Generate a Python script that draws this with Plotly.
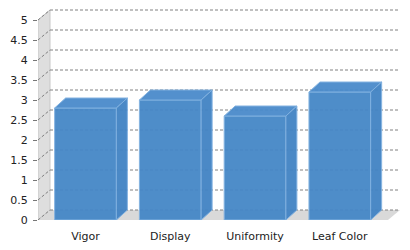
import plotly.graph_objects as go

categories = ["Vigor", "Display", "Uniformity", "Leaf Color"]
values = [2.8, 3.0, 2.6, 3.2]
y_ticks = [0, 0.5, 1, 1.5, 2, 2.5, 3, 3.5, 4, 4.5, 5]
y_ticktext = ["0", "0.5", "1", "1.5", "2", "2.5", "3", "3.5", "4", "4.5", "5"]

idx = list(range(len(categories)))

# geometry (axis units)
X_RANGE = [-0.5603, 3.710]
Y_RANGE = [0, 5.3]
FRONT_RIGHT = 3.568
BAR_W = 0.728
DX_BAR = 0.1298
DX_WALL = 0.1416
DY = 0.25

BAR_COLOR = "#4587c7"
TOP_COLOR = "#4a8bcb"
SIDE_COLOR = "#4283c4"
EDGE_COLOR = "#7fb0e0"
OPAC = 0.95

fig = go.Figure()
fig.add_trace(go.Bar(
    x=idx, y=values, width=BAR_W,
    marker=dict(color=BAR_COLOR, line=dict(color=EDGE_COLOR, width=1)),
    opacity=OPAC, hoverinfo="skip", showlegend=False,
))

shapes = []
x0 = X_RANGE[0]
# left wall
shapes.append(dict(type="path", layer="below", xref="x", yref="y",
                   path=f"M {x0},0 L {x0},{y_ticks[-1]} L {x0+DX_WALL},{y_ticks[-1]+DY} L {x0+DX_WALL},{DY} Z",
                   fillcolor="#dedede", line=dict(color="#c8c8c8", width=1)))
# floor
shapes.append(dict(type="path", layer="below", xref="x", yref="y",
                   path=f"M {x0},0 L {FRONT_RIGHT},0 L {FRONT_RIGHT+DX_WALL},{DY} L {x0+DX_WALL},{DY} Z",
                   fillcolor="#d9d9d9", line=dict(width=0)))
# gridlines on back plane and wall diagonals
for v in y_ticks:
    shapes.append(dict(type="line", layer="below", xref="x", yref="y",
                       x0=x0+DX_WALL, x1=X_RANGE[1], y0=v+DY, y1=v+DY,
                       line=dict(color="#808080", width=1, dash="3px,2px")))
    shapes.append(dict(type="line", layer="below", xref="x", yref="y",
                       x0=x0, x1=x0+DX_WALL, y0=v, y1=v+DY,
                       line=dict(color="#808080", width=1, dash="3px,2px")))
# bar top and side faces
for i, v in zip(idx, values):
    l = i - BAR_W/2
    r = i + BAR_W/2
    shapes.append(dict(type="path", layer="above", xref="x", yref="y", opacity=OPAC,
                       path=f"M {l},{v} L {l+DX_BAR},{v+DY} L {r+DX_BAR},{v+DY} L {r},{v} Z",
                       fillcolor=TOP_COLOR, line=dict(color=EDGE_COLOR, width=1)))
    shapes.append(dict(type="path", layer="above", xref="x", yref="y", opacity=OPAC,
                       path=f"M {r},0 L {r+DX_BAR},{DY} L {r+DX_BAR},{v+DY} L {r},{v} Z",
                       fillcolor=SIDE_COLOR, line=dict(color=EDGE_COLOR, width=1)))

fig.update_layout(
    width=410, height=250,
    margin=dict(l=38, r=10, t=8, b=30),
    paper_bgcolor="white", plot_bgcolor="white",
    font=dict(family="DejaVu Sans", size=11, color="#222222"),
    shapes=shapes,
    showlegend=False,
    xaxis=dict(range=X_RANGE, tickvals=idx, ticktext=categories,
               showgrid=False, zeroline=False, showline=False,
               ticks="", ticklabelstandoff=8, fixedrange=True),
    yaxis=dict(range=Y_RANGE, tickvals=y_ticks, ticktext=y_ticktext,
               showgrid=False, zeroline=False, showline=False,
               ticks="outside", ticklen=4, tickcolor="#777777",
               ticklabelstandoff=3, fixedrange=True),
)

fig.write_html("out.html", config={"displayModeBar": False})
